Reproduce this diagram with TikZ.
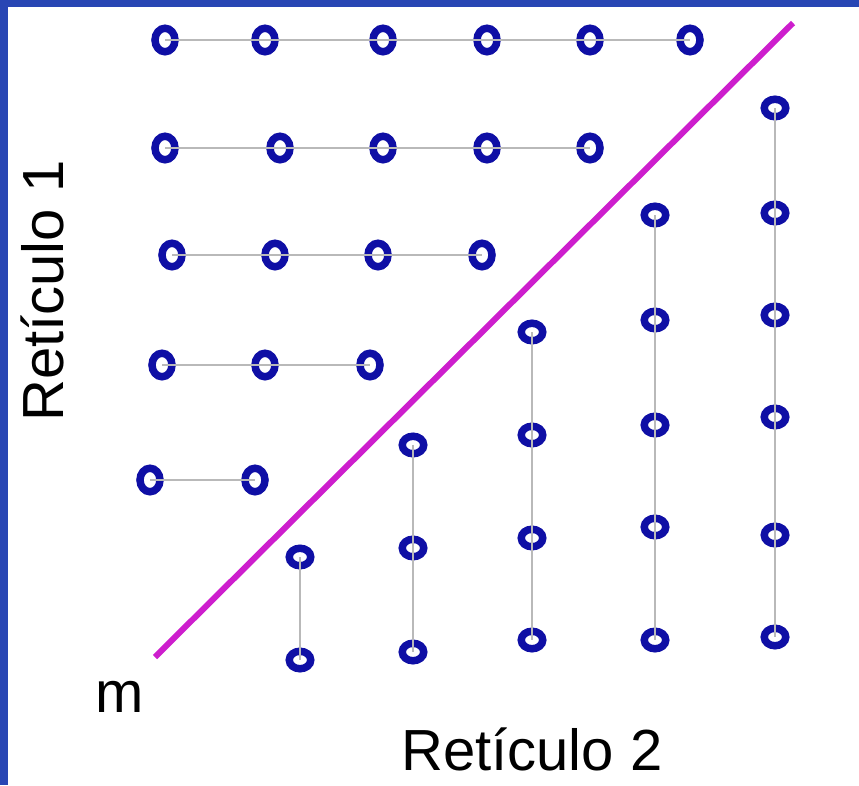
\documentclass[tikz,border=0pt]{standalone}
\usepackage{fontspec}
\setmainfont{Liberation Sans}
\usetikzlibrary{shapes.geometric}
\definecolor{frameblue}{RGB}{40,70,180}
\definecolor{dotblue}{RGB}{15,15,165}
\definecolor{diagmag}{RGB}{205,30,205}
\definecolor{linkgray}{RGB}{185,185,185}
\begin{document}
\begin{tikzpicture}[x=1pt,y=-1pt,
  rowdot/.style={ellipse,draw=dotblue,line width=7.5pt,minimum width=20pt,minimum height=23.5pt,inner sep=0pt},
  coldot/.style={ellipse,draw=dotblue,line width=7.5pt,minimum width=21.5pt,minimum height=17.5pt,inner sep=0pt},
  link/.style={draw=linkgray,line width=1.4pt},
  diag/.style={draw=diagmag,line width=6pt},
  lab/.style={font=\fontsize{58}{62}\selectfont,inner sep=0pt}]
\useasboundingbox (0,0) rectangle (859,785);
\fill[white] (0,0) rectangle (859,785);
\fill[frameblue] (0,0) rectangle (859,7);
\fill[frameblue] (0,0) rectangle (8,785);
% rows
\foreach \x [count=\i] in {165,265,383,487,590,690} \node[rowdot] (ra\i) at (\x,40) {};
\foreach \x [count=\i] in {165,280,383,487,590} \node[rowdot] (rb\i) at (\x,148) {};
\foreach \x [count=\i] in {172,275,378,482} \node[rowdot] (rc\i) at (\x,255) {};
\foreach \x [count=\i] in {162,265,370} \node[rowdot] (rd\i) at (\x,365) {};
\foreach \x [count=\i] in {150,255} \node[rowdot] (re\i) at (\x,480) {};
% columns
\foreach \y [count=\i] in {557,660} \node[coldot] (ca\i) at (300,\y) {};
\foreach \y [count=\i] in {445,548,652} \node[coldot] (cb\i) at (413,\y) {};
\foreach \y [count=\i] in {332,435,538,640} \node[coldot] (cc\i) at (532,\y) {};
\foreach \y [count=\i] in {215,320,425,527,640} \node[coldot] (cd\i) at (655,\y) {};
\foreach \y [count=\i] in {108,213,315,417,535,637} \node[coldot] (ce\i) at (775,\y) {};
% links
\draw[link] (ra1.center) -- (ra6.center);
\draw[link] (rb1.center) -- (rb5.center);
\draw[link] (rc1.center) -- (rc4.center);
\draw[link] (rd1.center) -- (rd3.center);
\draw[link] (re1.center) -- (re2.center);
\draw[link] (ca1.center) -- (ca2.center);
\draw[link] (cb1.center) -- (cb3.center);
\draw[link] (cc1.center) -- (cc4.center);
\draw[link] (cd1.center) -- (cd5.center);
\draw[link] (ce1.center) -- (ce6.center);
% diagonal
\coordinate (d0) at (155,657);
\coordinate (d1) at (793,23);
\draw[diag] (d0) -- (d1);
% labels
\node[lab,anchor=base west,rotate=90] (l1) at (63,422) {Retículo 1};
\node[lab,anchor=base west] (l2) at (401,770) {Retículo 2};
\node[lab,anchor=base west] (lm) at (95,712) {m};
\end{tikzpicture}
\end{document}
